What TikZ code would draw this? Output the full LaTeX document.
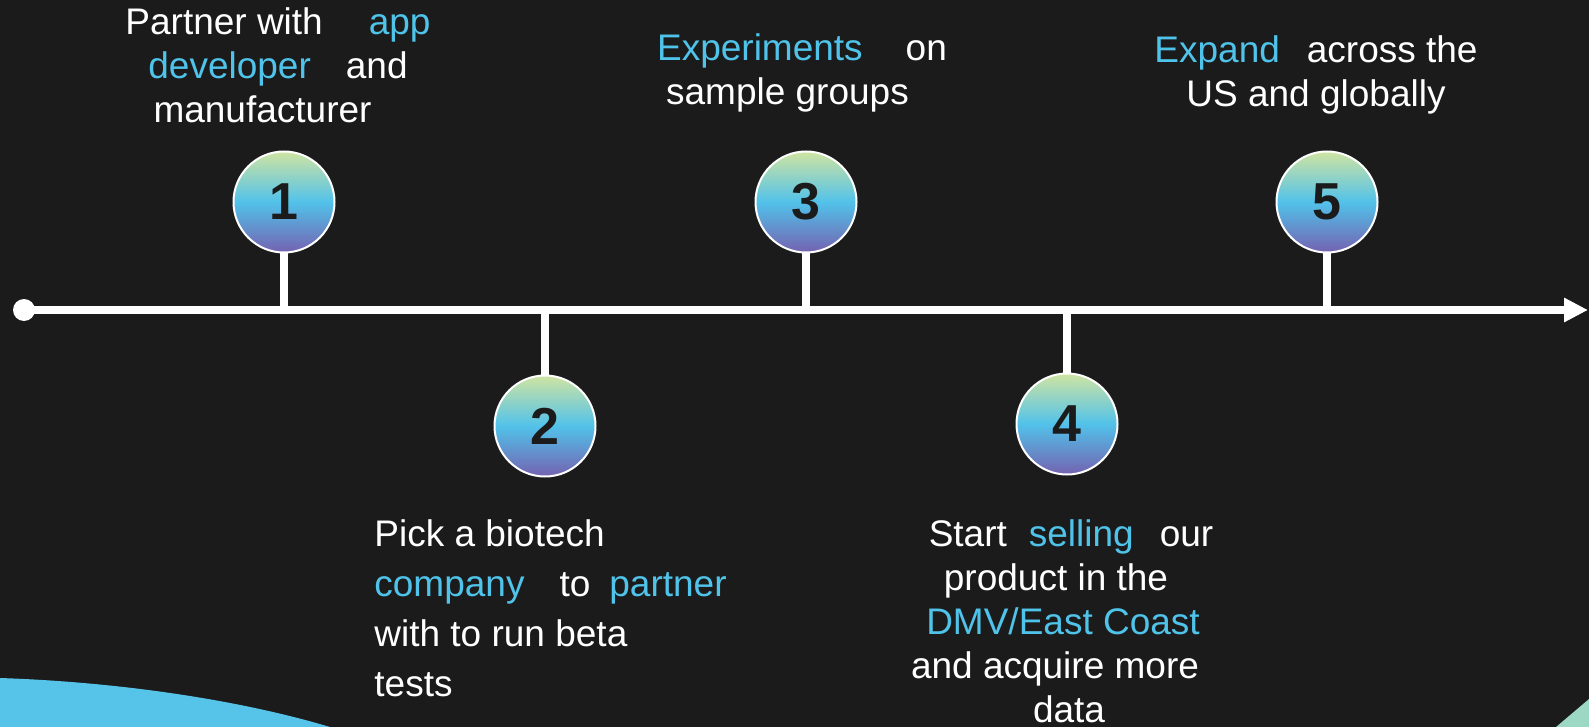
\documentclass[tikz,border=0pt]{standalone}
\usepackage{fontspec}
\setmainfont{Liberation Sans}
\usetikzlibrary{arrows.meta}
\definecolor{bgdark}{HTML}{1B1B1B}
\definecolor{hlblue}{HTML}{4FC3E9}
\definecolor{ballTop}{HTML}{CFE4A2}
\definecolor{ballMid}{HTML}{52C2EA}
\definecolor{ballBot}{HTML}{7462B0}
\definecolor{waveblue}{HTML}{56C3E8}
\definecolor{wavegreen}{HTML}{9DD8C4}
\newcommand{\hl}[1]{\textcolor{hlblue}{#1}}
\tikzstyle{numball}=[circle, draw=white, line width=1pt, minimum size=50.5pt, inner sep=0pt,
  top color=ballTop, bottom color=ballBot, middle color=ballMid,
  text=bgdark, font=\fontsize{26}{26}\selectfont\bfseries]
\tikzstyle{stemline}=[draw=white, line width=4pt]
\tikzstyle{steptext}=[text=white, inner sep=0pt, font=\fontsize{18.5}{22}\selectfont]

\begin{document}
\begin{tikzpicture}[x=0.5pt,y=-0.5pt]
  \useasboundingbox (0,0) rectangle (1589,727);
  \fill[bgdark] (0,0) rectangle (1589,727);
  % corner shapes
  \fill[waveblue] (0,678) .. controls (120,682) and (240,700) .. (330,727) -- (0,727) -- cycle;
  \fill[wavegreen] (1556,727) -- (1589,699) -- (1589,727) -- cycle;

  % time axis
  \node[circle, fill=white, minimum size=11pt, inner sep=0pt] (origin) at (24,310) {};
  \coordinate (tip) at (1588,310);
  \draw[white, line width=4pt, -{Triangle[length=12pt,width=11.5pt]}] (origin.center) -- (tip);

  \node[numball] (b1) at (284,202) {1};
  \node[numball] (b2) at (545,426) {2};
  \node[numball] (b3) at (806,202) {3};
  \node[numball] (b4) at (1067,424) {4};
  \node[numball] (b5) at (1327,202) {5};
  \draw[stemline] (b1) -- (b1 |- origin);
  \draw[stemline] (b2) -- (b2 |- origin);
  \draw[stemline] (b3) -- (b3 |- origin);
  \draw[stemline] (b4) -- (b4 |- origin);
  \draw[stemline] (b5) -- (b5 |- origin);

  \node[steptext, align=center, anchor=north] (t1) at (278,7)
    {Partner with\hspace{23pt}\hl{app}\\\hl{developer}\hspace{17.5pt}and\\manufacturer\hspace*{15.5pt}};
  \node[steptext, align=left, anchor=north west, font=\fontsize{18.5}{25}\selectfont] (t2) at (374,519)
    {Pick a biotech\\\hl{company}\hspace{17.5pt}to\hspace{9.5pt}\hl{partner}\\with to run beta\\tests};
  \node[steptext, align=center, anchor=north] (t3) at (802,33)
    {\hl{Experiments}\hspace{21.5pt}on\\sample groups\hspace*{14.5pt}};
  \node[steptext, align=center, anchor=north] (t4) at (1063,519)
    {\hspace*{8pt}Start\hspace{11pt}\hl{selling}\hspace{13pt}our\\product in the\hspace*{7pt}\null\\\hl{DMV/East Coast}\\and acquire more\hspace*{8pt}\null\\\hspace*{6pt}data};
  \node[steptext, align=center, anchor=north] (t5) at (1316,35)
    {\hl{Expand}\hspace{13.5pt}across the\\US and globally};
\end{tikzpicture}
\end{document}
